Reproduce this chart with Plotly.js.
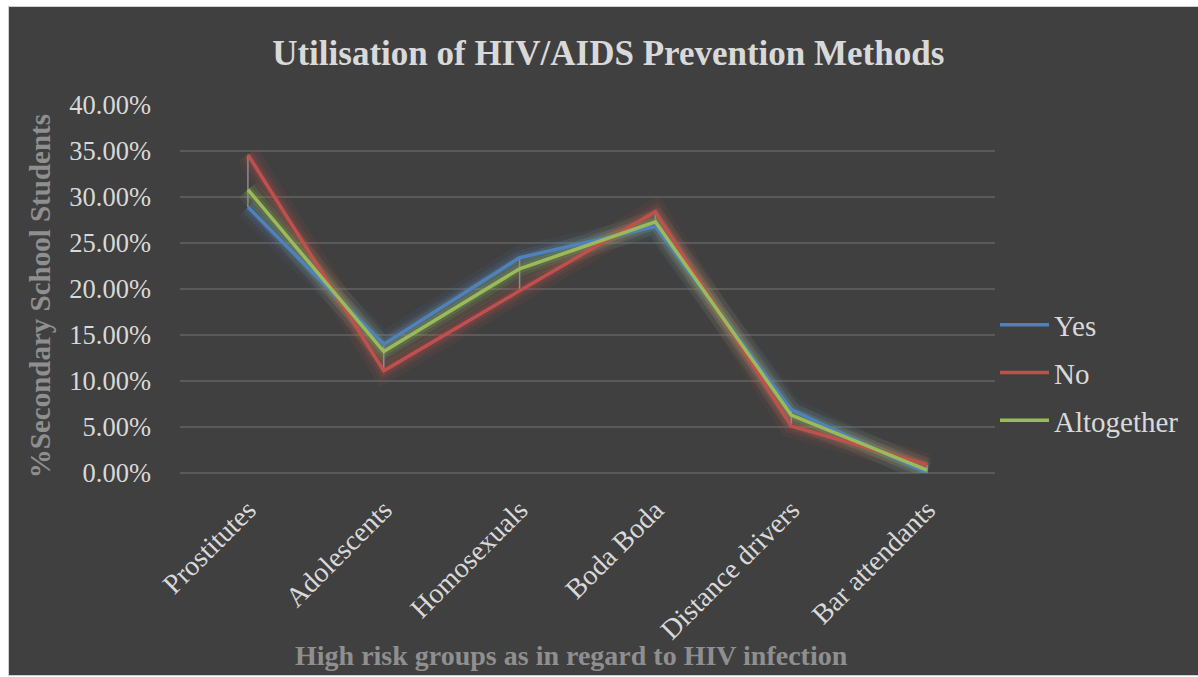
<!DOCTYPE html>
<html>
<head>
<meta charset="utf-8">
<script src="https://cdn.plot.ly/plotly-3.0.1.min.js"></script>
<style>
  html, body { margin: 0; padding: 0; background: #ffffff; width: 1198px; height: 677px; overflow: hidden; }
  #frame { position: absolute; left: 8px; top: 6px; width: 1190px; height: 670px; border: 1px solid #d0d0d0; border-right: none; box-sizing: border-box; }
  #chart { position: absolute; left: 9px; top: 7px; width: 1189px; height: 668px; }
</style>
</head>
<body>
<div id="frame"></div>
<div id="chart"></div>
<script>
// High risk groups (x categories)
const groups = ["Prostitutes", "Adolescents", "Homosexuals", "Boda Boda", "Distance drivers", "Bar attendants"];

// Share of secondary school students per group
const yesValues        = [0.289, 0.140, 0.234, 0.268, 0.069, 0.000];
const noValues         = [0.346, 0.111, 0.198, 0.284, 0.051, 0.009];
const altogetherValues = [0.308, 0.132, 0.222, 0.273, 0.063, 0.003];

const seriesNames  = ["Yes", "No", "Altogether"];
const seriesValues = [yesValues, noValues, altogetherValues];
const seriesColors = ["#4F81BD", "#C0504D", "#9BBB59"];

const FONT = "Liberation Serif, Times New Roman, serif";

const traces = [];

// soft glow under each line
seriesValues.forEach((vals, i) => {
  [[24, 0.08], [15, 0.12], [9, 0.16]].forEach(([w, op]) => {
    traces.push({
      x: groups, y: vals, type: "scatter", mode: "lines",
      line: { color: seriesColors[i], width: w },
      opacity: op, showlegend: false, hoverinfo: "skip"
    });
  });
});

// high-low lines joining the extremes of each category
const hlX = [], hlY = [];
groups.forEach((g, k) => {
  const v = seriesValues.map(s => s[k]);
  hlX.push(g, g, null);
  hlY.push(Math.min(...v), Math.max(...v), null);
});
traces.push({
  x: hlX, y: hlY, type: "scatter", mode: "lines",
  line: { color: "#8c8c8c", width: 1.5 },
  showlegend: false, hoverinfo: "skip"
});

// main series
seriesValues.forEach((vals, i) => {
  traces.push({
    x: groups, y: vals, type: "scatter", mode: "lines",
    name: seriesNames[i], legendgroup: seriesNames[i],
    line: { color: seriesColors[i], width: 3.5 }
  });
});

const layout = {
  width: 1189, height: 668,
  paper_bgcolor: "#404040", plot_bgcolor: "#404040",
  margin: { l: 171, r: 198, t: 98, b: 202 },
  font: { family: FONT, color: "#d9d9d9", size: 24 },
  title: {
    text: "<b>Utilisation of HIV/AIDS Prevention Methods</b>",
    font: { family: FONT, size: 35, color: "#d9d9d9" },
    xref: "container", x: 0.504, xanchor: "center",
    yref: "container", y: 0.932, yanchor: "middle"
  },
  xaxis: {
    type: "category", range: [-0.5, 5.5],
    tickangle: -45, ticks: "", showgrid: false, showline: false, zeroline: false,
    tickfont: { family: FONT, size: 28, color: "#d9d9d9" },
    ticklabelstandoff: 14
  },
  yaxis: {
    range: [0, 0.40], dtick: 0.05, tickformat: ".2%",
    showgrid: true, gridcolor: "#5a5a5a", gridwidth: 1.3,
    zeroline: true, zerolinecolor: "#5a5a5a", zerolinewidth: 1.3,
    showline: false, ticks: "",
    tickfont: { family: FONT, size: 26.5, color: "#d9d9d9" },
    ticklabelstandoff: 28
  },
  showlegend: true,
  legend: {
    x: 986 / 1189, xref: "container", xanchor: "left",
    y: 1 - 366 / 668, yref: "container", yanchor: "middle",
    font: { family: FONT, size: 29, color: "#d9d9d9" },
    bgcolor: "rgba(0,0,0,0)", traceorder: "grouped", tracegroupgap: 7,
    itemwidth: 49
  },
  annotations: [
    {
      text: "<b>%Secondary School Students</b>",
      xref: "paper", yref: "paper", x: -140 / 820, y: 0.48,
      xanchor: "center", yanchor: "middle", textangle: -90, showarrow: false,
      font: { family: FONT, size: 29, color: "#8f8f8f" }
    },
    {
      text: "<b>High risk groups as in regard to HIV infection</b>",
      xref: "paper", yref: "paper", x: 394 / 820, y: -182 / 368,
      xanchor: "center", yanchor: "middle", showarrow: false,
      font: { family: FONT, size: 28, color: "#8f8f8f" }
    }
  ]
};

Plotly.newPlot("chart", traces, layout, { displayModeBar: false, staticPlot: true });
</script>
</body>
</html>
